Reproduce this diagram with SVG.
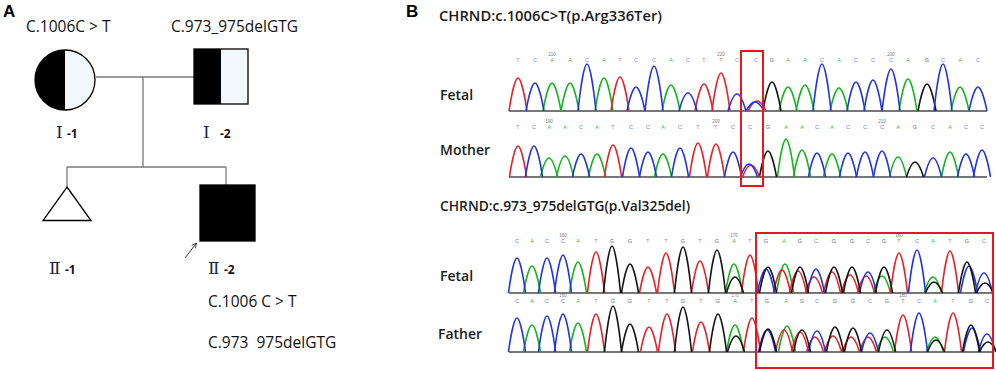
<svg xmlns="http://www.w3.org/2000/svg" width="996" height="371" viewBox="0 0 996 371">
<style>
.pl{font-family:"Liberation Sans",Arial,sans-serif;font-weight:bold;font-size:17px;fill:#000}
.mut{font-family:"Open Sans","Liberation Sans",sans-serif;font-size:15.5px;fill:#111}
.rom{font-family:"DejaVu Serif","Liberation Serif",serif;font-size:17px;fill:#1d2b3a}
.gen{font-family:"Open Sans","Liberation Sans",sans-serif;font-weight:bold;font-size:12px;fill:#111}
.hd{font-family:"Open Sans","Liberation Sans",sans-serif;font-size:13.5px;fill:#1a1a1a;font-weight:600}
.tr{font-family:"Open Sans","Liberation Sans",sans-serif;font-size:14px;fill:#1a1a1a;font-weight:600}
.ln{stroke:#7a7a7a;stroke-width:1.3;fill:none}
.sym{stroke:#000;stroke-width:1.3}
.box{fill:none;stroke:#e8161d;stroke-width:2}
.pk{fill:none;stroke-width:1.6;stroke-linejoin:round}
.r{stroke:#e3242b}.b{stroke:#2335e0}.g{stroke:#16b41f}.k{stroke:#151515}
.base{stroke:#4a4a4a;stroke-width:1.4}
.lt{font-family:"Liberation Sans",Arial,sans-serif;font-size:5.5px;text-anchor:middle}
.lr{fill:#ec6a70}.lb{fill:#7080f0}.lg{fill:#40c050}.lk{fill:#707070}
.nm{font-family:"Liberation Sans",Arial,sans-serif;font-size:4.5px;fill:#777;text-anchor:middle}
</style>
<defs>
<path id="p" d="M-9 0C-6.3 -0.55 -2.7 -1 0 -1S6.3 -0.55 9 0" vector-effect="non-scaling-stroke"/>
<marker id="ah" viewBox="0 0 10 10" refX="9" refY="5" markerWidth="6" markerHeight="6" orient="auto">
<path d="M1 1L9 5L1 9" fill="none" stroke="#333" stroke-width="1.3"/>
</marker>
</defs>
<rect width="996" height="371" fill="#fff"/>

<!-- Panel A: pedigree -->
<text class="pl" x="3" y="17">A</text>
<g id="connectors">
<path class="ln" d="M96 77H194"/>
<path class="ln" d="M143 77V167"/>
<path class="ln" d="M67 167H226"/>
<path class="ln" d="M67 167V187"/>
<path class="ln" d="M226 167V185"/>
<path d="M185 258L196.5 243" stroke="#333" stroke-width="1" marker-end="url(#ah)"/>
</g>
<g id="I-1">
<text class="mut" x="26" y="31.5">C.1006C &gt; T</text>
<circle cx="65" cy="80" r="30" fill="#f3f8fc"/>
<path d="M65 50A30 30 0 0 0 65 110Z" fill="#000"/>
<circle class="sym" cx="65" cy="80" r="30" fill="none"/>
<text x="56" y="137.5"><tspan class="rom">Ⅰ</tspan><tspan class="gen" x="67">-1</tspan></text>
</g>
<g id="I-2">
<text class="mut" x="171" y="31.5">C.973_975delGTG</text>
<rect x="194" y="49" width="54" height="55" fill="#f3f8fc"/>
<rect x="194" y="49" width="27" height="55" fill="#000"/>
<rect class="sym" x="194" y="49" width="54" height="55" fill="none"/>
<text x="203" y="137.5"><tspan class="rom">Ⅰ</tspan><tspan class="gen" x="220">-2</tspan></text>
</g>
<g id="II-1">
<path class="sym" d="M67 187L91 220.5H43Z" fill="#fff" stroke-width="1.4"/>
<text x="49" y="273.5"><tspan class="rom">Ⅱ</tspan><tspan class="gen" x="65">-1</tspan></text>
</g>
<g id="II-2">
<rect class="sym" x="200" y="185" width="55" height="56" fill="#000"/>
<text x="208" y="273.5"><tspan class="rom">Ⅱ</tspan><tspan class="gen" x="224">-2</tspan></text>
<text class="mut" x="208" y="307">C.1006 C &gt; T</text>
<text class="mut" x="208" y="348" xml:space="preserve">C.973  975delGTG</text>
</g>

<!-- Panel B: chromatograms -->
<text class="pl" x="406" y="17">B</text>
<text class="hd" x="439" y="20.5" textLength="223" lengthAdjust="spacingAndGlyphs">CHRND:c.1006C&gt;T(p.Arg336Ter)</text>
<text class="hd" x="440" y="211" textLength="250" lengthAdjust="spacingAndGlyphs">CHRND:c.973_975delGTG(p.Val325del)</text>
<text class="tr" x="440" y="99.5">Fetal</text>
<text class="tr" x="440" y="155">Mother</text>
<text class="tr" x="440" y="281">Fetal</text>
<text class="tr" x="438" y="339">Father</text>

<g id="baselines">
<path class="base" d="M509 111H987"/>
<path class="base" d="M509 177H987" stroke="#c85050"/>
<path class="base" d="M509 293H993" stroke="#6a4a8a"/>
<path class="base" d="M509 352H993" stroke="#6a4a8a"/>
</g>

<!-- base calls -->
<g id="letters">
<text class="lt" y="62" x="518 535 552 570 587 604 620 636 654 671 688 704 721 737 756 772 788 805 822 839 856 873 891 908 927 943 960 978"><tspan class="lr">T</tspan><tspan class="lb">C</tspan><tspan class="lg">AA</tspan><tspan class="lb">C</tspan><tspan class="lg">A</tspan><tspan class="lr">T</tspan><tspan class="lb">CC</tspan><tspan class="lg">A</tspan><tspan class="lb">C</tspan><tspan class="lr">TT</tspan><tspan class="lb">CC</tspan><tspan class="lk">G</tspan><tspan class="lg">AA</tspan><tspan class="lb">C</tspan><tspan class="lg">A</tspan><tspan class="lb">CCC</tspan><tspan class="lg">A</tspan><tspan class="lk">G</tspan><tspan class="lb">C</tspan><tspan class="lg">A</tspan><tspan class="lb">C</tspan></text>
<text class="nm" x="552" y="55.5">210</text>
<text class="nm" x="721" y="55.5">220</text>
<text class="nm" x="891" y="55.5">230</text>

<text class="lt" y="129" x="518 534 549 565 581 597 613 631 648 663 680 698 716 733 750 768 786 802 817 832 848 865 882 898 915 933 950 966 982"><tspan class="lr">T</tspan><tspan class="lb">C</tspan><tspan class="lg">AA</tspan><tspan class="lb">C</tspan><tspan class="lg">A</tspan><tspan class="lr">T</tspan><tspan class="lb">CC</tspan><tspan class="lg">A</tspan><tspan class="lb">C</tspan><tspan class="lr">TT</tspan><tspan class="lb">CC</tspan><tspan class="lk">G</tspan><tspan class="lg">AA</tspan><tspan class="lb">C</tspan><tspan class="lg">A</tspan><tspan class="lb">CCC</tspan><tspan class="lg">A</tspan><tspan class="lk">G</tspan><tspan class="lb">C</tspan><tspan class="lg">A</tspan><tspan class="lb">CC</tspan></text>
<text class="nm" x="549" y="122.5">190</text>
<text class="nm" x="716" y="122.5">200</text>
<text class="nm" x="882" y="122.5">210</text>

<text class="lt" y="243" x="517 532 547 563 578 596 612 630 648 666 683 700 717 734 750 766 784 800 816 834 852 868 884 899 917 933 950 967 984"><tspan class="lb">C</tspan><tspan class="lg">A</tspan><tspan class="lb">CC</tspan><tspan class="lg">A</tspan><tspan class="lr">T</tspan><tspan class="lk">GG</tspan><tspan class="lr">TT</tspan><tspan class="lk">G</tspan><tspan class="lr">T</tspan><tspan class="lk">G</tspan><tspan class="lg">A</tspan><tspan class="lr">T</tspan><tspan class="lk">G</tspan><tspan class="lg">A</tspan><tspan class="lk">G</tspan><tspan class="lb">C</tspan><tspan class="lk">GG</tspan><tspan class="lb">C</tspan><tspan class="lk">G</tspan><tspan class="lr">T</tspan><tspan class="lb">C</tspan><tspan class="lg">A</tspan><tspan class="lr">T</tspan><tspan class="lk">G</tspan><tspan class="lb">C</tspan></text>
<text class="nm" x="563" y="236.5">160</text>
<text class="nm" x="734" y="236.5">170</text>
<text class="nm" x="899" y="236.5">180</text>

<text class="lt" y="303" x="517 532 547 563 578 596 613 630 649 667 683 701 718 735 752 767 786 802 817 835 853 870 887 903 919 935 953 971 987"><tspan class="lb">C</tspan><tspan class="lg">A</tspan><tspan class="lb">CC</tspan><tspan class="lg">A</tspan><tspan class="lr">T</tspan><tspan class="lk">GG</tspan><tspan class="lr">TT</tspan><tspan class="lk">G</tspan><tspan class="lr">T</tspan><tspan class="lk">G</tspan><tspan class="lg">A</tspan><tspan class="lr">T</tspan><tspan class="lk">G</tspan><tspan class="lg">A</tspan><tspan class="lk">G</tspan><tspan class="lb">C</tspan><tspan class="lk">GG</tspan><tspan class="lb">C</tspan><tspan class="lk">G</tspan><tspan class="lr">T</tspan><tspan class="lb">C</tspan><tspan class="lg">A</tspan><tspan class="lr">T</tspan><tspan class="lk">G</tspan><tspan class="lb">C</tspan></text>
<text class="nm" x="563" y="296.5">160</text>
<text class="nm" x="735" y="296.5">170</text>
<text class="nm" x="903" y="296.5">180</text>
</g>

<!-- traces -->
<g id="trace-fetal-1" class="pk">
<g class="g">
<use href="#p" transform="translate(552 111) scale(1 28)"/>
<use href="#p" transform="translate(570 111) scale(1 28)"/>
<use href="#p" transform="translate(604 111) scale(1 33)"/>
<use href="#p" transform="translate(671 111) scale(1 26)"/>
<use href="#p" transform="translate(788 111) scale(1 24)"/>
<use href="#p" transform="translate(805 111) scale(1 26)"/>
<use href="#p" transform="translate(839 111) scale(1 23)"/>
<use href="#p" transform="translate(908 111) scale(1 32)"/>
<use href="#p" transform="translate(960 111) scale(1 24)"/>
</g>
<g class="k">
<use href="#p" transform="translate(772 111) scale(1 29)"/>
<use href="#p" transform="translate(927 111) scale(1 27)"/>
</g>
<g class="r">
<use href="#p" transform="translate(518 111) scale(1 33)"/>
<use href="#p" transform="translate(620 111) scale(1 34)"/>
<use href="#p" transform="translate(704 111) scale(1 27)"/>
<use href="#p" transform="translate(721 111) scale(1 38)"/>
<use href="#p" transform="translate(757 111) scale(1 10)"/>
</g>
<g class="b">
<use href="#p" transform="translate(535 111) scale(1 28)"/>
<use href="#p" transform="translate(587 111) scale(1 47)"/>
<use href="#p" transform="translate(636 111) scale(1 24)"/>
<use href="#p" transform="translate(654 111) scale(1 45)"/>
<use href="#p" transform="translate(688 111) scale(1 18)"/>
<use href="#p" transform="translate(737 111) scale(1 17)"/>
<use href="#p" transform="translate(755 111) scale(1 9)"/>
<use href="#p" transform="translate(822 111) scale(1 47)"/>
<use href="#p" transform="translate(856 111) scale(1 29)"/>
<use href="#p" transform="translate(873 111) scale(1 31)"/>
<use href="#p" transform="translate(891 111) scale(1 42)"/>
<use href="#p" transform="translate(943 111) scale(1 47)"/>
<use href="#p" transform="translate(978 111) scale(1 24)"/>
</g>
</g>

<g id="trace-mother" class="pk">
<g class="g">
<use href="#p" transform="translate(549 177) scale(0.95 19)"/>
<use href="#p" transform="translate(565 177) scale(0.95 21)"/>
<use href="#p" transform="translate(597 177) scale(0.95 23)"/>
<use href="#p" transform="translate(663 177) scale(0.95 23)"/>
<use href="#p" transform="translate(786 177) scale(0.95 38)"/>
<use href="#p" transform="translate(802 177) scale(0.95 27)"/>
<use href="#p" transform="translate(832 177) scale(0.95 23)"/>
<use href="#p" transform="translate(898 177) scale(0.95 20)"/>
<use href="#p" transform="translate(950 177) scale(0.95 25)"/>
</g>
<g class="k">
<use href="#p" transform="translate(768 177) scale(0.95 26)"/>
<use href="#p" transform="translate(915 177) scale(0.95 15)"/>
</g>
<g class="r">
<use href="#p" transform="translate(518 177) scale(0.95 31)"/>
<use href="#p" transform="translate(613 177) scale(0.95 32)"/>
<use href="#p" transform="translate(698 177) scale(0.95 34)"/>
<use href="#p" transform="translate(716 177) scale(0.95 33)"/>
<use href="#p" transform="translate(751 177) scale(0.95 12)"/>
</g>
<g class="b">
<use href="#p" transform="translate(534 177) scale(0.95 31)"/>
<use href="#p" transform="translate(581 177) scale(0.95 23)"/>
<use href="#p" transform="translate(631 177) scale(0.95 29)"/>
<use href="#p" transform="translate(648 177) scale(0.95 25)"/>
<use href="#p" transform="translate(680 177) scale(0.95 29)"/>
<use href="#p" transform="translate(733 177) scale(0.95 25)"/>
<use href="#p" transform="translate(749 177) scale(0.95 13)"/>
<use href="#p" transform="translate(817 177) scale(0.95 24)"/>
<use href="#p" transform="translate(848 177) scale(0.95 24)"/>
<use href="#p" transform="translate(865 177) scale(0.95 25)"/>
<use href="#p" transform="translate(882 177) scale(0.95 26)"/>
<use href="#p" transform="translate(933 177) scale(0.95 19)"/>
<use href="#p" transform="translate(966 177) scale(0.95 23)"/>
<use href="#p" transform="translate(982 177) scale(0.95 27)"/>
</g>
</g>

<g id="trace-fetal-2" class="pk">
<g class="g">
<use href="#p" transform="translate(532 293) scale(0.95 27)"/>
<use href="#p" transform="translate(578 293) scale(0.95 31)"/>
<use href="#p" transform="translate(734 293) scale(0.95 29)"/>
<use href="#p" transform="translate(785 293) scale(0.95 29)"/>
<use href="#p" transform="translate(882 293) scale(0.95 17)"/>
<use href="#p" transform="translate(933 293) scale(0.95 16)"/>
</g>
<g class="r">
<use href="#p" transform="translate(596 293) scale(0.95 41)"/>
<use href="#p" transform="translate(648 293) scale(0.95 26)"/>
<use href="#p" transform="translate(666 293) scale(0.95 40)"/>
<use href="#p" transform="translate(700 293) scale(0.95 32)"/>
<use href="#p" transform="translate(750 293) scale(0.95 38)"/>
<use href="#p" transform="translate(782 293) scale(0.95 23)"/>
<use href="#p" transform="translate(798 293) scale(0.95 22)"/>
<use href="#p" transform="translate(814 293) scale(0.95 16)"/>
<use href="#p" transform="translate(832 293) scale(0.95 21)"/>
<use href="#p" transform="translate(850 293) scale(0.95 18)"/>
<use href="#p" transform="translate(866 293) scale(0.95 17)"/>
<use href="#p" transform="translate(899 293) scale(0.95 40)"/>
<use href="#p" transform="translate(950 293) scale(0.95 42)"/>
</g>
<g class="b">
<use href="#p" transform="translate(517 293) scale(0.95 35)"/>
<use href="#p" transform="translate(547 293) scale(0.95 35)"/>
<use href="#p" transform="translate(563 293) scale(0.95 38)"/>
<use href="#p" transform="translate(766 293) scale(0.95 24)"/>
<use href="#p" transform="translate(816 293) scale(0.95 24)"/>
<use href="#p" transform="translate(868 293) scale(0.95 21)"/>
<use href="#p" transform="translate(917 293) scale(0.95 43)"/>
<use href="#p" transform="translate(969 293) scale(0.95 27)"/>
<use href="#p" transform="translate(984 293) scale(0.95 20)"/>
</g>
<g class="k">
<use href="#p" transform="translate(612 293) scale(0.95 47)"/>
<use href="#p" transform="translate(630 293) scale(0.95 29)"/>
<use href="#p" transform="translate(683 293) scale(0.95 46)"/>
<use href="#p" transform="translate(717 293) scale(0.95 43)"/>
<use href="#p" transform="translate(735 293) scale(0.95 16)"/>
<use href="#p" transform="translate(768 293) scale(0.95 26)"/>
<use href="#p" transform="translate(800 293) scale(0.95 26)"/>
<use href="#p" transform="translate(834 293) scale(0.95 26)"/>
<use href="#p" transform="translate(852 293) scale(0.95 26)"/>
<use href="#p" transform="translate(884 293) scale(0.95 26)"/>
<use href="#p" transform="translate(934 293) scale(0.95 11)"/>
<use href="#p" transform="translate(967 293) scale(0.95 31)"/>
<use href="#p" transform="translate(985 293) scale(0.95 10)"/>
</g>
</g>

<g id="trace-father" class="pk">
<g class="g">
<use href="#p" transform="translate(532 352) scale(0.95 27)"/>
<use href="#p" transform="translate(578 352) scale(0.95 29)"/>
<use href="#p" transform="translate(735 352) scale(0.95 27)"/>
<use href="#p" transform="translate(787 352) scale(0.95 26)"/>
<use href="#p" transform="translate(885 352) scale(0.95 15)"/>
<use href="#p" transform="translate(935 352) scale(0.95 15)"/>
</g>
<g class="r">
<use href="#p" transform="translate(596 352) scale(0.95 38)"/>
<use href="#p" transform="translate(649 352) scale(0.95 25)"/>
<use href="#p" transform="translate(667 352) scale(0.95 38)"/>
<use href="#p" transform="translate(701 352) scale(0.95 30)"/>
<use href="#p" transform="translate(752 352) scale(0.95 34)"/>
<use href="#p" transform="translate(784 352) scale(0.95 22)"/>
<use href="#p" transform="translate(800 352) scale(0.95 20)"/>
<use href="#p" transform="translate(815 352) scale(0.95 15)"/>
<use href="#p" transform="translate(833 352) scale(0.95 16)"/>
<use href="#p" transform="translate(851 352) scale(0.95 15)"/>
<use href="#p" transform="translate(868 352) scale(0.95 15)"/>
<use href="#p" transform="translate(903 352) scale(0.95 37)"/>
<use href="#p" transform="translate(953 352) scale(0.95 39)"/>
</g>
<g class="b">
<use href="#p" transform="translate(517 352) scale(0.95 34)"/>
<use href="#p" transform="translate(547 352) scale(0.95 36)"/>
<use href="#p" transform="translate(563 352) scale(0.95 38)"/>
<use href="#p" transform="translate(767 352) scale(0.95 22)"/>
<use href="#p" transform="translate(817 352) scale(0.95 21)"/>
<use href="#p" transform="translate(870 352) scale(0.95 19)"/>
<use href="#p" transform="translate(919 352) scale(0.95 39)"/>
<use href="#p" transform="translate(972 352) scale(0.95 24)"/>
<use href="#p" transform="translate(987 352) scale(0.95 18)"/>
</g>
<g class="k">
<use href="#p" transform="translate(613 352) scale(0.95 46)"/>
<use href="#p" transform="translate(630 352) scale(0.95 28)"/>
<use href="#p" transform="translate(683 352) scale(0.95 45)"/>
<use href="#p" transform="translate(718 352) scale(0.95 38)"/>
<use href="#p" transform="translate(736 352) scale(0.95 16)"/>
<use href="#p" transform="translate(768 352) scale(0.95 23)"/>
<use href="#p" transform="translate(802 352) scale(0.95 22)"/>
<use href="#p" transform="translate(835 352) scale(0.95 25)"/>
<use href="#p" transform="translate(853 352) scale(0.95 24)"/>
<use href="#p" transform="translate(887 352) scale(0.95 22)"/>
<use href="#p" transform="translate(936 352) scale(0.95 12)"/>
<use href="#p" transform="translate(971 352) scale(0.95 27)"/>
<use href="#p" transform="translate(988 352) scale(0.95 10)"/>
</g>
</g>

<g id="highlight-boxes">
<rect class="box" x="741" y="51" width="22" height="135"/>
<rect class="box" x="756" y="233" width="237" height="135"/>
</g>
</svg>
